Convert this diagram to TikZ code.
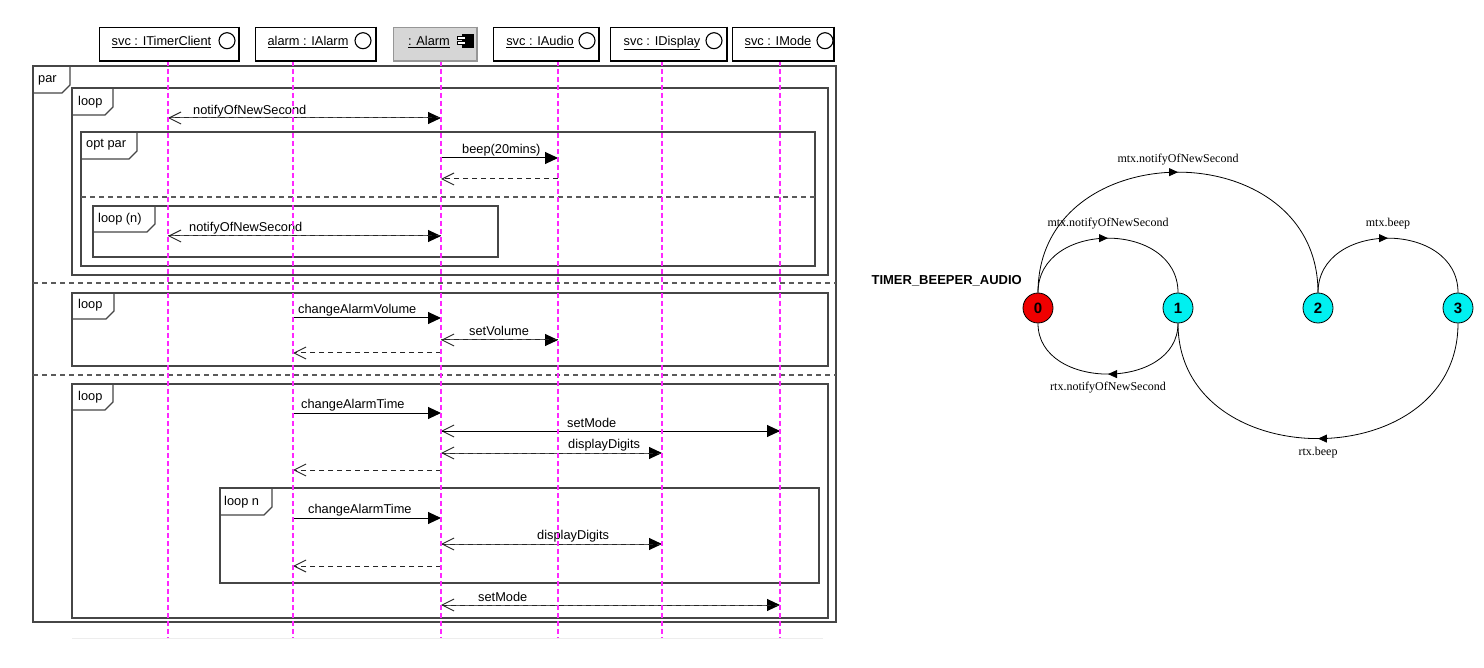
\documentclass[tikz,border=0pt]{standalone}
\usepackage{fontspec}
\setmainfont{Liberation Sans}
\newfontfamily\lserif{Liberation Serif}
\usetikzlibrary{arrows.meta,decorations.markings}
\definecolor{lifemag}{RGB}{255,40,255}
\definecolor{framegray}{RGB}{70,70,70}
\definecolor{sepgray}{RGB}{90,90,90}
\definecolor{boxgray}{RGB}{214,214,214}
\definecolor{boxedge}{RGB}{150,150,150}
\definecolor{stred}{RGB}{240,0,0}
\definecolor{stcyan}{RGB}{0,240,240}
\begin{document}
\begin{tikzpicture}[x=1pt,y=1pt,
  seqfont/.style={font=\fontsize{12.8}{15}\selectfont},
  lifeline/.style={draw=lifemag, line width=1.1pt, dash pattern=on 5pt off 3pt},
  framebox/.style={draw=framegray, line width=1.1pt},
  sepline/.style={draw=sepgray, line width=1.1pt, dash pattern=on 5pt off 4pt},
  tablabel/.style={anchor=base west, inner sep=0pt, seqfont},
  msglabel/.style={anchor=base west, inner sep=0pt, seqfont},
  callmsg/.style={draw=black, line width=1pt, -{Triangle[length=13pt,width=12pt]}},
  callsoft/.style={draw=black!65, line width=1pt, -{Triangle[length=13pt,width=12pt,color=black]}},
  retmsg/.style={draw=black!85, line width=1pt, dash pattern=on 5pt off 4pt, -{Straight Barb[length=12pt,width=12pt,line width=1pt]}},
  hdrbox/.style={draw=black, fill=white, line width=0.8pt, minimum height=34pt, inner sep=0pt},
  hdrshadow/.style={draw=black, line width=2pt},
  hdrtext/.style={anchor=base, inner sep=0pt, seqfont},
  iface/.style={circle, draw=black, fill=white, line width=1.1pt, minimum size=16pt, inner sep=0pt},
  stnode/.style={circle, draw=black, line width=0.8pt, minimum size=30pt, inner sep=0pt, font=\fontsize{15}{17}\selectfont\bfseries},
  trans/.style={draw=black, line width=0.8pt, postaction={decorate},
    decoration={markings, mark=at position 0.5 with {\arrow{Triangle[length=9pt,width=8pt]}}}},
  tlabel/.style={font=\lserif\fontsize{12}{14}\selectfont, inner sep=0pt}
]
\fill[white] (0,0) rectangle (1484,-668);
\useasboundingbox (0,0) rectangle (1484,-668);

% ---------- frames ----------
\draw[framebox] (33,-66) rectangle (836,-622);
\draw[framebox] (33,-93) -- (62,-93) -- (70,-85) -- (70,-66);
\node[tablabel] (tpar) at (38,-83) {par};

\draw[framebox] (72,-88) rectangle (828,-275);
\draw[framebox] (72,-115) -- (105,-115) -- (113,-107) -- (113,-88);
\node[tablabel] (tloop1) at (78,-106) {loop};

\draw[framebox] (81,-132) rectangle (815,-266);
\draw[framebox] (81,-159) -- (129,-159) -- (137,-151) -- (137,-132);
\node[tablabel] (topt) at (86,-148) {opt par};
\draw[sepline] (81,-197) -- (815,-197);

\draw[framebox] (93,-206) rectangle (498,-257);
\draw[framebox] (93,-232) -- (147,-232) -- (155,-224) -- (155,-206);
\node[tablabel] (tloopn1) at (98,-223) {loop (n)};

\draw[sepline] (33,-283) -- (836,-283);

\draw[framebox] (72,-293) rectangle (828,-366);
\draw[framebox] (72,-319) -- (106,-319) -- (114,-311) -- (114,-293);
\node[tablabel] (tloop2) at (78,-309) {loop};

\draw[sepline] (33,-375) -- (836,-375);

\draw[framebox] (72,-384) rectangle (828,-618);
\draw[framebox] (72,-410) -- (105,-410) -- (113,-402) -- (113,-384);
\node[tablabel] (tloop3) at (78,-401) {loop};

\draw[framebox] (220,-488) rectangle (819,-583);
\draw[framebox] (220,-515) -- (264,-515) -- (272,-507) -- (272,-488);
\node[tablabel] (tloopn2) at (224,-505) {loop n};

\draw[draw=black!7, line width=1pt] (72,-638) -- (823,-638);

% ---------- lifeline coordinates ----------
\coordinate (lTC) at (168,-61);  \coordinate (eTC) at (168,-638);
\coordinate (lAl) at (293,-61);  \coordinate (eAl) at (293,-638);
\coordinate (lA)  at (441,-61);  \coordinate (eA)  at (441,-638);
\coordinate (lAu) at (558,-61);  \coordinate (eAu) at (558,-638);
\coordinate (lD)  at (662,-61);  \coordinate (eD)  at (662,-638);
\coordinate (lM)  at (780,-61);  \coordinate (eM)  at (780,-638);

% ---------- messages ----------
\coordinate (m1) at (0,-118);
\draw[callsoft] (lTC |- m1) -- (lA |- m1);
\draw[retmsg] (lA |- m1) -- (lTC |- m1);
\node[msglabel] (n1) at (193,-114.5) {notifyOfNewSecond};

\coordinate (m2) at (0,-158);
\draw[callmsg] (lA |- m2) -- (lAu |- m2);
\node[msglabel] (n2) at (462,-153.5) {beep(20mins)};
\coordinate (m3) at (0,-179);
\draw[retmsg] (lAu |- m3) -- (lA |- m3);

\coordinate (m4) at (0,-236);
\draw[callsoft] (lTC |- m4) -- (lA |- m4);
\draw[retmsg] (lA |- m4) -- (lTC |- m4);
\node[msglabel] (n4) at (189,-232) {notifyOfNewSecond};

\coordinate (m5) at (0,-318);
\draw[callmsg] (lAl |- m5) -- (lA |- m5);
\node[msglabel] (n5) at (298,-314) {changeAlarmVolume};

\coordinate (m6) at (0,-340);
\draw[callsoft] (lA |- m6) -- (lAu |- m6);
\draw[retmsg] (lAu |- m6) -- (lA |- m6);
\node[msglabel] (n6) at (469,-335.5) {setVolume};

\coordinate (m7) at (0,-353);
\draw[retmsg] (lA |- m7) -- (lAl |- m7);

\coordinate (m8) at (0,-413);
\draw[callmsg] (lAl |- m8) -- (lA |- m8);
\node[msglabel] (n8) at (301,-409) {changeAlarmTime};

\coordinate (m9) at (0,-431);
\draw[retmsg] (lM |- m9) -- (lA |- m9);
\draw[callmsg] (lA |- m9) -- (lM |- m9);
\node[msglabel] (n9) at (567,-427) {setMode};

\coordinate (m10) at (0,-453);
\draw[callsoft] (lA |- m10) -- (lD |- m10);
\draw[retmsg] (lD |- m10) -- (lA |- m10);
\node[msglabel] (n10) at (568,-448.5) {displayDigits};

\coordinate (m11) at (0,-470);
\draw[retmsg] (lA |- m11) -- (lAl |- m11);

\coordinate (m12) at (0,-518);
\draw[callmsg] (lAl |- m12) -- (lA |- m12);
\node[msglabel] (n12) at (308,-513.5) {changeAlarmTime};

\coordinate (m13) at (0,-544);
\draw[callsoft] (lA |- m13) -- (lD |- m13);
\draw[retmsg] (lD |- m13) -- (lA |- m13);
\node[msglabel] (n13) at (537,-539.5) {displayDigits};

\coordinate (m14) at (0,-566);
\draw[retmsg] (lA |- m14) -- (lAl |- m14);

\coordinate (m15) at (0,-605);
\draw[callsoft] (lA |- m15) -- (lM |- m15);
\draw[retmsg] (lM |- m15) -- (lA |- m15);
\node[msglabel] (n15) at (478,-601) {setMode};

% ---------- lifelines ----------
\draw[lifeline] (lTC) -- (eTC);
\draw[lifeline] (lAl) -- (eAl);
\draw[lifeline] (lA) -- (eA);
\draw[lifeline] (lAu) -- (eAu);
\draw[lifeline] (lD) -- (eD);
\draw[lifeline] (lM) -- (eM);

% ---------- headers ----------
\node[hdrbox, minimum width=140pt] (hTC) at (169,-44) {};
\draw[hdrshadow] (hTC.north east) -- (hTC.south east) -- (hTC.south west);
\node[hdrtext] (tTC) at (161.5,-45.5) {\underline{svc : ITimerClient}};
\node[iface] (iTC) at (227,-40.7) {};

\node[hdrbox, minimum width=121pt] (hAl) at (315.5,-44) {};
\draw[hdrshadow] (hAl.north east) -- (hAl.south east) -- (hAl.south west);
\node[hdrtext] (tAl) at (308,-45.5) {\underline{alarm : IAlarm}};
\node[iface] (iAl) at (363,-40.7) {};

\node[hdrbox, minimum width=84pt, fill=boxgray, draw=boxedge] (hA) at (435,-44) {};
\draw[hdrshadow, draw=boxedge] (hA.north east) -- (hA.south east) -- (hA.south west);
\node[hdrtext] (tA) at (429,-45.5) {\underline{: Alarm}};
\node[draw=black, fill=black, minimum width=11pt, minimum height=13pt, inner sep=0pt] (cA) at (467.5,-40.7) {};
\node[draw=black, fill=white, line width=0.8pt, minimum width=8pt, minimum height=3pt, inner sep=0pt] (cA1) at (461.5,-38) {};
\node[draw=black, fill=white, line width=0.8pt, minimum width=8pt, minimum height=3pt, inner sep=0pt] (cA2) at (461.5,-43.3) {};

\node[hdrbox, minimum width=106pt] (hAu) at (546,-44) {};
\draw[hdrshadow] (hAu.north east) -- (hAu.south east) -- (hAu.south west);
\node[hdrtext] (tAu) at (540,-45.5) {\underline{svc : IAudio}};
\node[iface] (iAu) at (587,-40.7) {};

\node[hdrbox, minimum width=117pt] (hD) at (668.5,-44) {};
\draw[hdrshadow] (hD.north east) -- (hD.south east) -- (hD.south west);
\node[hdrtext] (tD) at (662,-45.5) {\underline{svc : IDisplay}};
\node[iface] (iD) at (714,-40.7) {};

\node[hdrbox, minimum width=102pt] (hM) at (783,-44) {};
\draw[hdrshadow] (hM.north east) -- (hM.south east) -- (hM.south west);
\node[hdrtext] (tM) at (778,-45.5) {\underline{svc : IMode}};
\node[iface] (iM) at (825,-40.7) {};

% ---------- state machine ----------
\node[font=\fontsize{13}{15}\selectfont\bfseries, anchor=east, inner sep=0pt] (title) at (1022,-281) {TIMER\_BEEPER\_AUDIO};
\node[stnode, fill=stred] (s0) at (1038,-308) {0};
\node[stnode, fill=stcyan] (s1) at (1178,-308) {1};
\node[stnode, fill=stcyan] (s2) at (1318,-308) {2};
\node[stnode, fill=stcyan] (s3) at (1458,-308) {3};

\draw[trans] (s0) .. controls +(0,88) and +(0,88) .. (s1);
\draw[trans] (s0) .. controls +(0,176) and +(0,176) .. (s2);
\draw[trans] (s1) .. controls +(0,-83) and +(0,-83) .. (s0);
\draw[trans] (s2) .. controls +(0,88) and +(0,88) .. (s3);
\draw[trans] (s3) .. controls +(0,-169) and +(0,-169) .. (s1);

\node[tlabel] (lab02) at (1178,-160) {mtx.notifyOfNewSecond};
\node[tlabel] (lab01) at (1108,-224) {mtx.notifyOfNewSecond};
\node[tlabel] (lab10) at (1108,-388) {rtx.notifyOfNewSecond};
\node[tlabel] (lab23) at (1388,-224) {mtx.beep};
\node[tlabel] (lab31) at (1318,-453) {rtx.beep};
\end{tikzpicture}
\end{document}
